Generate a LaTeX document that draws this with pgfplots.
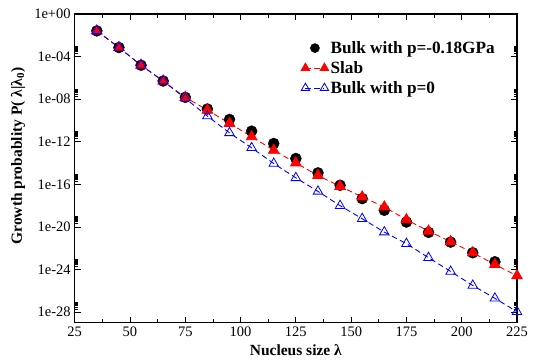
\documentclass[border=0pt]{standalone}
\usepackage{fontspec}
\setmainfont{Liberation Serif}
\usepackage{pgfplots}
\pgfplotsset{compat=1.18}
\pgfplotsset{
  twomarklegend/.style={legend image code/.code={\draw[##1, mark size=4.8pt] plot coordinates {(0pt,0pt) (19pt,0pt)};}},
  onemarklegend/.style={legend image code/.code={\draw[##1, mark size=4.6pt] plot coordinates {(9.5pt,0pt)};}},
}
\begin{document}
\begin{tikzpicture}
\begin{axis}[
  scale only axis,
  width=442.3pt, height=308.8pt,
  xmin=25, xmax=225,
  ymode=log, ymin=1e-29, ymax=1,
  xtick={25,50,75,100,125,150,175,200,225},
  minor xtick={37.5,62.5,87.5,112.5,137.5,162.5,187.5,212.5},
  ytick={1,1e-4,1e-8,1e-12,1e-16,1e-20,1e-24,1e-28},
  yticklabels={1e+00,1e-04,1e-08,1e-12,1e-16,1e-20,1e-24,1e-28},
  minor ytick={2e-4,3e-4,4e-4,5e-4,6e-4,7e-4,8e-4,9e-4,
    2e-8,3e-8,4e-8,5e-8,6e-8,7e-8,8e-8,9e-8,
    2e-12,3e-12,4e-12,5e-12,6e-12,7e-12,8e-12,9e-12,
    2e-16,3e-16,4e-16,5e-16,6e-16,7e-16,8e-16,9e-16,
    2e-20,3e-20,4e-20,5e-20,6e-20,7e-20,8e-20,9e-20,
    2e-24,3e-24,4e-24,5e-24,6e-24,7e-24,8e-24,9e-24,
    2e-28,3e-28,4e-28,5e-28,6e-28,7e-28,8e-28,9e-28},
  tick align=inside,
  major tick length=6pt, minor tick length=3.5pt,
  every tick/.style={black, line width=0.8pt},
  axis line style={line width=1.3pt},
  xtick pos=both, ytick pos=both,
  /pgf/number format/assume math mode=true,
  tick label style={font=\fontsize{14.5}{16}\selectfont},
  xticklabel style={yshift=-0.5pt},
  yticklabel style={xshift=-0.5pt},
  xlabel={\textbf{Nucleus size λ}},
  ylabel={\textbf{Growth probablity P( λ|λ\textsubscript{0})}},
  xlabel style={font=\fontsize{15.5}{17}\selectfont, at={(axis description cs:0.5,-0.107)}, anchor=base},
  ylabel style={font=\fontsize{15.5}{17}\selectfont, at={(axis description cs:-0.128,0.54)}, anchor=center},
  legend style={at={(0.505,0.925)}, anchor=north west, draw=none, fill=none,
    font=\fontsize{17.2}{19}\selectfont\bfseries, row sep=2.5pt,
    /tikz/every even column/.append style={column sep=3pt}},
  legend cell align=left,
]
\addplot[only marks, mark=*, mark size=5.5pt, black, onemarklegend]
coordinates {
(35,2.6e-2) (45,7.1e-4) (55,1.55e-5) (65,5.1e-7) (75,1.5e-8) (85,1.2e-9)
(95,1.25e-10) (105,1.0e-11) (115,6.9e-13) (125,2.7e-14) (135,1.2e-15)
(145,8.3e-17) (155,4.6e-18) (165,3.7e-19) (175,2.9e-20) (185,3.1e-21)
(195,3.8e-22) (205,3.8e-23) (215,5.4e-24)
};
\addlegendentry{Bulk with p=-0.18GPa}
\addplot[red, dashed, dash pattern=on 5.5pt off 3.5pt, line width=0.9pt,
  mark=triangle*, mark size=6pt, mark options={solid, fill=red}, twomarklegend]
coordinates {
(35,2.6e-2) (45,7.1e-4) (55,1.55e-5) (65,5.1e-7) (75,1.5e-8) (85,9.5e-10)
(95,5.4e-11) (105,3.0e-12) (115,1.6e-13) (125,1.05e-14) (135,6.8e-16)
(145,6.6e-17) (155,6.6e-18) (165,7.6e-19) (175,4.8e-20) (185,4.1e-21)
(195,4.2e-22) (205,3.8e-23) (215,3.0e-24) (225,2.6e-25)
};
\addlegendentry{Slab}
\addplot[blue, dashed, dash pattern=on 5.5pt off 3.5pt, line width=0.9pt,
  mark=triangle, mark size=5.5pt, mark options={solid, line width=0.8pt, fill=none}, twomarklegend]
coordinates {
(35,2.6e-2) (45,7.1e-4) (55,1.55e-5) (65,5.1e-7) (75,1.2e-8) (85,2.6e-10)
(95,6.9e-12) (105,2.7e-13) (115,9.1e-15) (125,4.1e-16) (135,2.2e-17)
(145,1.0e-18) (155,6.0e-20) (165,3.3e-21) (175,2.7e-22) (185,1.3e-23)
(195,6.6e-25) (205,3.2e-26) (215,2.0e-27) (225,1.1e-28)
};
\addlegendentry{Bulk with p=0}
\end{axis}
\pgfresetboundingbox
\path[use as bounding box] (-74.7pt,-37pt) rectangle (459.3pt,322.8pt);
\end{tikzpicture}
\end{document}
